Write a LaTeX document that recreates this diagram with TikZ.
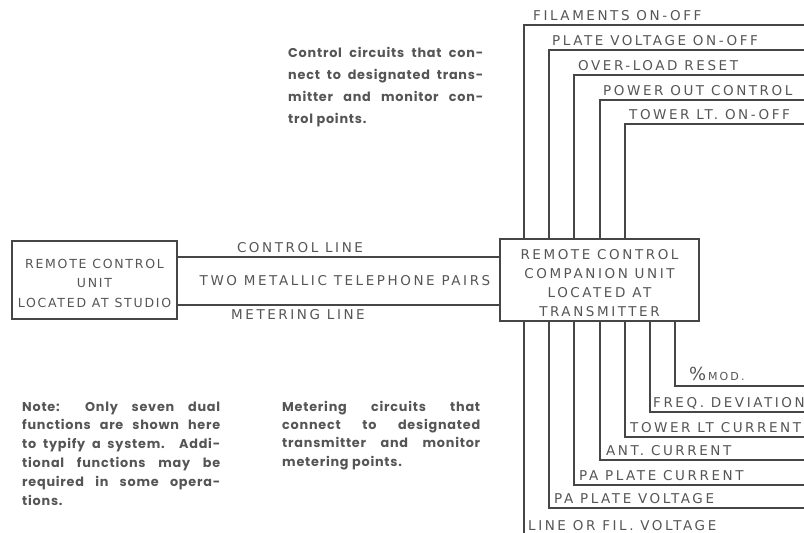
\documentclass[tikz,border=0pt]{standalone}
\usepackage{fontspec}
\setmainfont{Poppins}
\newfontfamily\notefont[LetterSpace=6]{Poppins}
\newfontfamily\lblfont[LetterSpace=19]{DejaVu Sans}
\newfontfamily\boxfont[LetterSpace=14]{DejaVu Sans}
\usetikzlibrary{positioning}
\usetikzlibrary{calc}
\definecolor{ink}{RGB}{70,70,70}
\definecolor{txt}{RGB}{85,85,85}
\newcommand{\jl}[2]{\makebox[#1pt][s]{#2}}

\begin{document}
\begin{tikzpicture}[x=1pt,y=-1pt,
    box/.style={draw=ink, line width=1.3pt, inner sep=0pt},
    boxtext/.style={text=txt, inner sep=0pt, align=center},
    wire/.style={draw=ink, line width=1.3pt},
    lbl/.style={text=txt, inner sep=0pt, font=\lblfont\fontsize{13.5}{15}\selectfont},
    note/.style={text=txt, inner sep=0pt, align=left, anchor=base west,
        font=\notefont\bfseries\fontsize{12.8}{#1}\selectfont}]
    \useasboundingbox (0,0) rectangle (804,533);

    % Studio unit and companion unit
    \node[box, minimum width=165pt, minimum height=78pt] (studio) at (94.5,280) {};
    \node[boxtext, font=\boxfont\fontsize{12.5}{19.5}\selectfont]
        at ([yshift=-3pt]studio.center) {REMOTE CONTROL\\UNIT\\LOCATED AT STUDIO};
    \node[box, minimum width=199pt, minimum height=82pt] (companion) at (599.5,280) {};
    \node[boxtext, font=\lblfont\fontsize{13.5}{19}\selectfont]
        at ([yshift=-3pt]companion.center)
        {REMOTE CONTROL\\COMPANION UNIT\\LOCATED AT\\TRANSMITTER};

    % Telephone pairs
    \draw[wire] ([yshift=23pt]studio.east) -- ([yshift=23pt]companion.west);
    \draw[wire] ([yshift=-25pt]studio.east) -- ([yshift=-25pt]companion.west);
    \node[lbl] (ctl) at (300,248) {CONTROL LINE};
    \node[lbl] (pairs) at (345,281) {TWO METALLIC TELEPHONE PAIRS};
    \node[lbl] (met) at (298,315) {METERING LINE};

    % Control circuits (top)
    \foreach \i/\x/\y/\dx/\t in {1/524/25/9/FILAMENTS\ ON-OFF,
        2/549/50/3/PLATE VOLTAGE ON-OFF, 3/574/75/4/OVER-LOAD RESET,
        4/600/100/3/POWER OUT CONTROL, 5/625/124/4/TOWER LT. ON-OFF} {
        \coordinate (ct\i) at (\x,\y);
        \coordinate (ce\i) at (804,\y);
        \draw[wire] (companion.north -| ct\i) -- (ct\i) -- (ce\i);
        \node[lbl, anchor=base west] at ([xshift=\dx pt,yshift=5pt]ct\i) {\t};
    }

    % Metering circuits (bottom)
    \foreach \i/\x/\y in {1/524/538, 2/549/508, 3/574/485, 4/600/460,
        5/625/437, 6/650/412, 7/675/386} {
        \coordinate (cm\i) at (\x,\y);
        \coordinate (cn\i) at (804,\y);
        \draw[wire] (companion.south -| cm\i) -- (cm\i) -- (cn\i);
    }
    \foreach \i/\dx/\dy/\t in {1/4/8/LINE OR FIL. VOLTAGE,
        2/5/5/PA PLATE VOLTAGE, 3/5/5/PA PLATE CURRENT,
        4/6/5/ANT. CURRENT, 5/5/5/TOWER LT CURRENT,
        6/3/5/FREQ. DEVIATION, 7/14/6/{{\fontsize{18}{18}\selectfont\%}\fontsize{11}{13}\selectfont\,MOD.}} {
        \node[lbl, anchor=base west] at ([xshift=\dx pt,yshift=\dy pt]cm\i) {\t};
    }

    % Notes (anchored at the baseline of their last line)
    \node[note=22] (ctltext) at (288,123)
        {\jl{195}{Control circuits that con-}\\
         \jl{195}{nect to designated trans-}\\
         \jl{195}{mitter and monitor con-}\\
         trol points.};
    \node[note=18.3] (mettext) at (282,466)
        {\jl{198}{Metering circuits that}\\
         \jl{198}{connect to designated}\\
         \jl{198}{transmitter and monitor}\\
         metering points.};
    \node[note=18.8] (notetext) at (22,505)
        {\jl{198}{Note: Only seven dual}\\
         \jl{198}{functions are shown here}\\
         \jl{198}{to typify a system. Addi-}\\
         \jl{198}{tional functions may be}\\
         \jl{198}{required in some opera-}\\
         tions.};
\end{tikzpicture}
\end{document}
